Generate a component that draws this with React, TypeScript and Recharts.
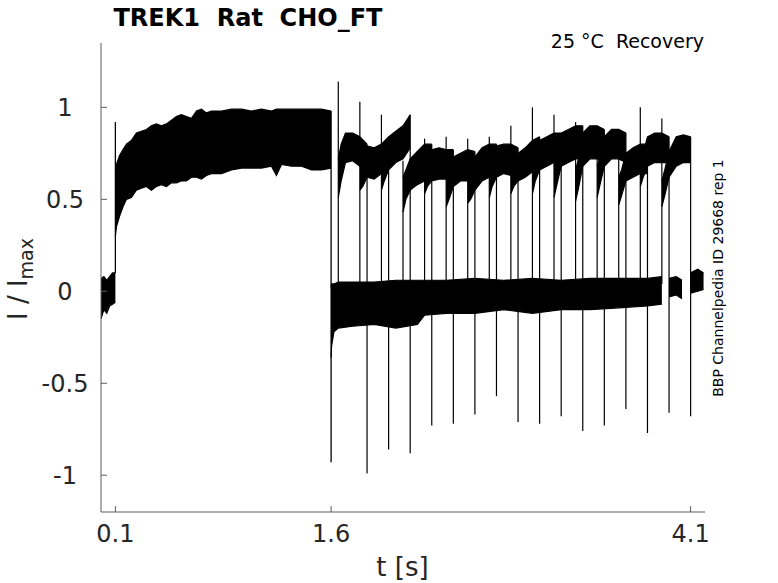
import React from "react";
import { Area, ComposedChart, ReferenceLine, XAxis, YAxis } from "recharts";

const xTicks = [0.1, 1.6, 4.1];
const yTicks = [-1, -0.5, 0, 0.5, 1];

// holding current before the first step
const restT = [0, 0.02, 0.04, 0.06, 0.08, 0.1];
const restLo = [-0.15, -0.1, -0.12, -0.08, -0.07, -0.06];
const restHi = [0.07, 0.08, 0.06, 0.08, 0.1, 0.1];

// first step 0.1 - 1.6 s, envelope of the noisy trace
const stepT = [0.1, 0.107, 0.13, 0.153, 0.177, 0.211, 0.246, 0.281, 0.316, 0.35, 0.385, 0.42, 0.455, 0.49, 0.524, 0.559, 0.594, 0.629, 0.664, 0.698, 0.733, 0.768, 0.838, 0.907, 0.977, 1.046, 1.116, 1.185, 1.22, 1.255, 1.325, 1.394, 1.464, 1.533, 1.6];
const stepLo = [0.3, 0.35, 0.41, 0.46, 0.5, 0.51, 0.55, 0.56, 0.57, 0.55, 0.57, 0.58, 0.57, 0.59, 0.59, 0.6, 0.6, 0.62, 0.62, 0.61, 0.63, 0.64, 0.64, 0.66, 0.67, 0.67, 0.67, 0.68, 0.63, 0.69, 0.68, 0.68, 0.66, 0.66, 0.67];
const stepHi = [0.66, 0.69, 0.74, 0.77, 0.8, 0.82, 0.86, 0.87, 0.88, 0.9, 0.91, 0.9, 0.91, 0.93, 0.95, 0.96, 0.95, 0.94, 0.98, 0.99, 0.97, 0.98, 0.98, 0.99, 0.99, 0.98, 0.99, 0.98, 0.99, 0.99, 0.99, 0.99, 0.99, 0.99, 0.98];

// interpulse gap, all sweeps overlaid
const gapT = [1.6, 1.603, 1.62, 1.65, 1.75, 1.9, 2.05, 2.2, 2.25, 2.4, 2.6, 2.8, 3.0, 3.2, 3.4, 3.6, 3.8, 3.9];
const gapLo = [-0.36, -0.3, -0.22, -0.2, -0.19, -0.18, -0.2, -0.18, -0.13, -0.12, -0.12, -0.1, -0.12, -0.1, -0.1, -0.09, -0.08, -0.07];
const gapHi = [0.02, 0.04, 0.04, 0.05, 0.05, 0.05, 0.06, 0.06, 0.06, 0.06, 0.07, 0.06, 0.07, 0.06, 0.07, 0.07, 0.07, 0.08];
const tailAT = [3.95, 4.0, 4.04];
const tailALo = [-0.03, -0.02, -0.04];
const tailAHi = [0.07, 0.08, 0.06];
const tailBT = [4.1, 4.15, 4.19];
const tailBLo = [-0.01, 0.0, 0.01];
const tailBHi = [0.1, 0.12, 0.1];

// test pulses: start, end and the capacitive spikes
const onsetT = [1.65, 1.8, 1.95, 2.1, 2.25, 2.4, 2.55, 2.7, 2.85, 3.0, 3.15, 3.3, 3.45, 3.6, 3.75, 3.9];
const onsetPeak = [1.14, 1.03, 0.96, 0.71, 0.83, 0.84, 0.83, 0.84, 0.9, 1.0, 0.96, 0.92, 0.9, 0.88, 1.0, 0.94];
const offsetT = [1.85, 2.0, 2.15, 2.3, 2.45, 2.6, 2.75, 2.9, 3.05, 3.2, 3.35, 3.5, 3.65, 3.8, 3.95, 4.1];
const offsetPeak = [-0.99, -0.86, -0.88, -0.73, -0.72, -0.67, -0.57, -0.71, -0.72, -0.68, -0.76, -0.73, -0.64, -0.77, -0.66, -0.68];

// each test pulse sampled at these times after its onset
const sweepOffsets = [0, 0.02, 0.05, 0.1, 0.15, 0.2];
const sweepLo = [
  [0.51, 0.6, 0.7, 0.71, 0.68, 0.64],
  [0.55, 0.57, 0.62, 0.61, 0.64, 0.68],
  [0.55, 0.6, 0.66, 0.7, 0.72, 0.78],
  [0.43, 0.5, 0.55, 0.58, 0.6, 0.6],
  [0.53, 0.57, 0.6, 0.61, 0.61, 0.6],
  [0.46, 0.5, 0.57, 0.6, 0.6, 0.58],
  [0.48, 0.5, 0.55, 0.6, 0.62, 0.63],
  [0.51, 0.57, 0.62, 0.64, 0.63, 0.62],
  [0.53, 0.57, 0.6, 0.62, 0.65, 0.67],
  [0.53, 0.6, 0.66, 0.68, 0.7, 0.7],
  [0.51, 0.58, 0.68, 0.7, 0.72, 0.72],
  [0.49, 0.56, 0.68, 0.72, 0.72, 0.7],
  [0.51, 0.58, 0.68, 0.72, 0.72, 0.7],
  [0.47, 0.52, 0.6, 0.62, 0.64, 0.64],
  [0.57, 0.62, 0.68, 0.7, 0.7, 0.7],
  [0.46, 0.52, 0.62, 0.68, 0.7, 0.7],
];
const sweepHi = [
  [0.72, 0.8, 0.86, 0.86, 0.84, 0.8],
  [0.72, 0.76, 0.79, 0.78, 0.8, 0.84],
  [0.7, 0.78, 0.84, 0.87, 0.9, 0.96],
  [0.62, 0.66, 0.72, 0.76, 0.8, 0.8],
  [0.7, 0.75, 0.77, 0.78, 0.77, 0.77],
  [0.65, 0.7, 0.73, 0.75, 0.77, 0.76],
  [0.64, 0.68, 0.73, 0.78, 0.8, 0.8],
  [0.7, 0.74, 0.79, 0.8, 0.8, 0.78],
  [0.71, 0.73, 0.75, 0.78, 0.82, 0.84],
  [0.71, 0.76, 0.82, 0.84, 0.86, 0.86],
  [0.68, 0.74, 0.86, 0.88, 0.9, 0.9],
  [0.66, 0.72, 0.86, 0.9, 0.9, 0.88],
  [0.68, 0.73, 0.84, 0.88, 0.88, 0.86],
  [0.62, 0.66, 0.75, 0.78, 0.8, 0.8],
  [0.7, 0.75, 0.84, 0.86, 0.86, 0.84],
  [0.6, 0.66, 0.76, 0.84, 0.85, 0.84],
];

const FONT = "'DejaVu Sans', sans-serif";
const AXIS = "#5c5c5c";
const INK = "#262626";

const band = (ts: number[], lo: number[], hi: number[]) =>
  ts.map((t, i) => ({ t, r: [lo[i], hi[i]] }));

const sweeps = onsetT.map((t0, k) =>
  sweepOffsets.map((o, i) => ({ t: +(t0 + o).toFixed(3), r: [sweepLo[k][i], sweepHi[k][i]] }))
);

const bands = [
  band(restT, restLo, restHi),
  band(stepT, stepLo, stepHi),
  band(gapT, gapLo, gapHi),
  band(tailAT, tailALo, tailAHi),
  band(tailBT, tailBLo, tailBHi),
  ...sweeps,
];

function XTick(p: any) {
  return (
    <g>
      <line x1={p.x} x2={p.x} y1={p.y} y2={p.y - 6} stroke={AXIS} />
      <text x={p.x} y={p.y + 30} textAnchor="middle" fontSize={24} fontFamily={FONT} fill={INK}>
        {p.payload.value}
      </text>
    </g>
  );
}

function YTick(p: any) {
  return (
    <g>
      <line x1={p.x} x2={p.x + 6} y1={p.y} y2={p.y} stroke={AXIS} />
      <text x={p.x - 36} y={p.y + 8.5} textAnchor="middle" fontSize={24} fontFamily={FONT} fill={INK}>
        {p.payload.value}
      </text>
    </g>
  );
}

const seg = (t: number, a: number, b: number) => [
  { x: t, y: a },
  { x: t, y: b },
];

export default function App() {
  return (
    <div style={{ position: "relative", width: 778, height: 583, background: "#fff" }}>
      <style>{"body{margin:0}"}</style>
      <ComposedChart width={778} height={583} margin={{ top: 43, right: 73, bottom: 41, left: 41 }}>
        <XAxis
          type="number"
          dataKey="t"
          domain={[0, 4.2]}
          ticks={xTicks}
          interval={0}
          allowDataOverflow
          height={30}
          tickLine={false}
          tickSize={0}
          tickMargin={0}
          axisLine={{ stroke: AXIS }}
          tick={XTick}
        />
        <YAxis
          type="number"
          domain={[-1.2, 1.35]}
          ticks={yTicks}
          interval={0}
          allowDataOverflow
          width={60}
          tickLine={false}
          tickSize={0}
          tickMargin={0}
          axisLine={{ stroke: AXIS }}
          tick={YTick}
        />
        {bands.map((d, i) => (
          <Area
            key={"b" + i}
            data={d}
            dataKey="r"
            type="linear"
            stroke="#000"
            strokeWidth={1.2}
            fill="#000"
            fillOpacity={1}
            dot={false}
            activeDot={false}
            isAnimationActive={false}
          />
        ))}
        <ReferenceLine segment={seg(0.1, restHi[restHi.length - 1], 0.92)} stroke="#000" strokeWidth={1.3} />
        <ReferenceLine segment={seg(1.6, stepHi[stepHi.length - 1], -0.93)} stroke="#000" strokeWidth={1.3} />
        {onsetT.map((t, k) => (
          <ReferenceLine key={"on" + k} segment={seg(t, 0.04, onsetPeak[k])} stroke="#000" strokeWidth={1.2} />
        ))}
        {offsetT.map((t, k) => (
          <ReferenceLine
            key={"off" + k}
            segment={seg(t, sweepHi[k][sweepHi[k].length - 1], offsetPeak[k])}
            stroke="#000"
            strokeWidth={1.2}
          />
        ))}
      </ComposedChart>
      <svg
        width={778}
        height={583}
        style={{ position: "absolute", left: 0, top: 0, pointerEvents: "none" }}
        fontFamily={FONT}
      >
        <text x={113.5} y={26} fontSize={24} fontWeight="bold" fill="#000" style={{ whiteSpace: "pre" }}>
          {"TREK1  Rat  CHO_FT"}
        </text>
        <text x={704} y={48} fontSize={19} textAnchor="end" fill="#000" style={{ whiteSpace: "pre" }}>
          {"25 °C  Recovery"}
        </text>
        <text transform="translate(723, 278) rotate(-90)" fontSize={14} textAnchor="middle" fill="#000">
          BBP Channelpedia ID 29668 rep 1
        </text>
        <text transform="translate(27, 279) rotate(-90)" fontSize={26} textAnchor="middle" fill={INK} style={{ whiteSpace: "pre" }}>
          {"I / I"}
          <tspan fontSize={19} dy={6}>max</tspan>
        </text>
        <text x={402.5} y={576} fontSize={26} textAnchor="middle" fill={INK}>
          t [s]
        </text>
      </svg>
    </div>
  );
}
